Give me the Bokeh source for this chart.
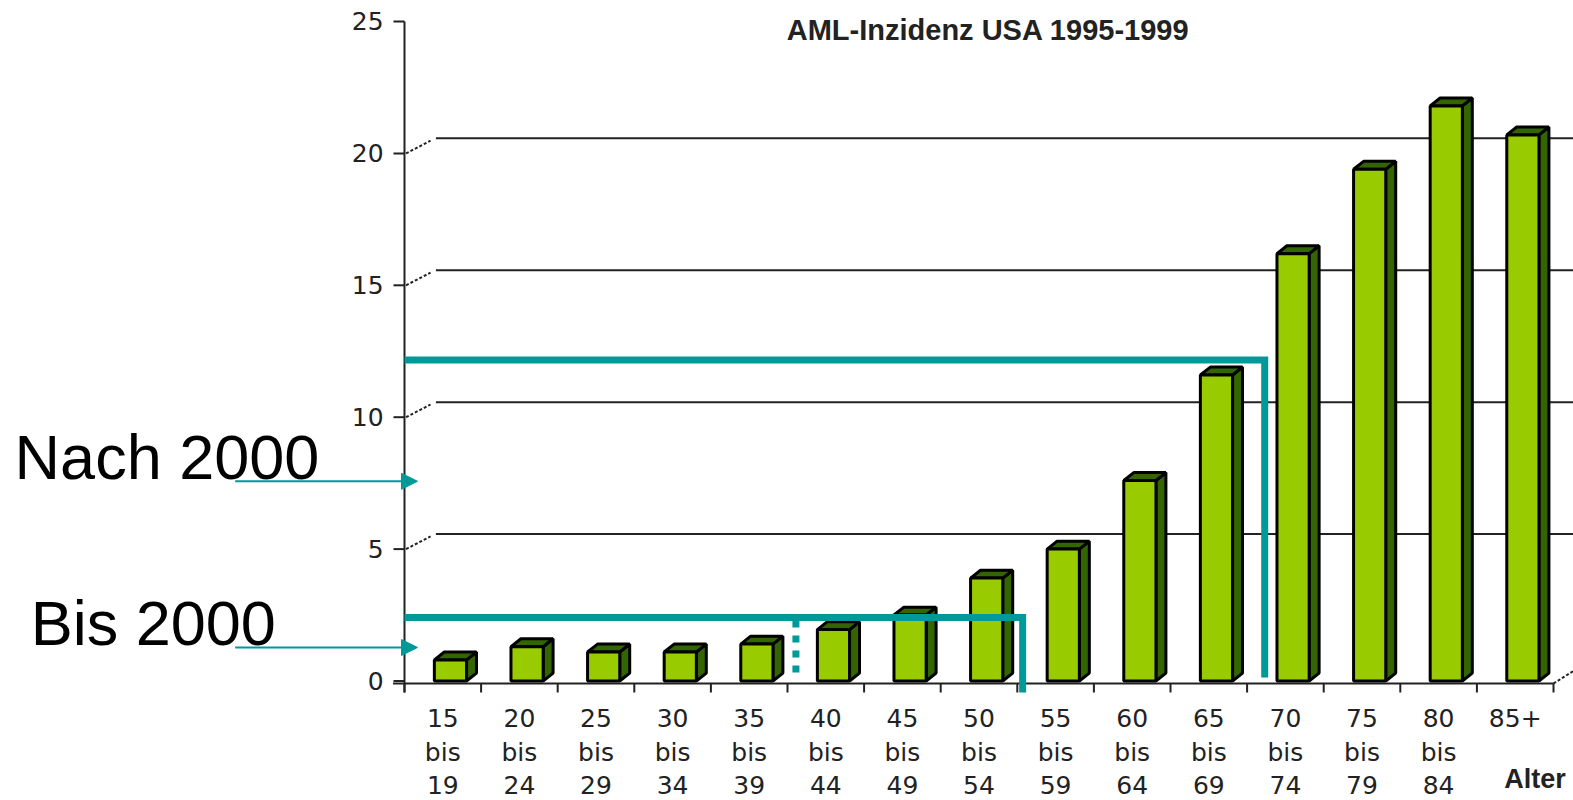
import numpy as np
from bokeh.plotting import figure
from bokeh.models import Label, Arrow, NormalHead, Range1d
from bokeh.embed import file_html
from bokeh.resources import INLINE
from bokeh.core.properties import value

# ---------------- data ----------------
age_groups = ["15\nbis\n19", "20\nbis\n24", "25\nbis\n29", "30\nbis\n34", "35\nbis\n39",
              "40\nbis\n44", "45\nbis\n49", "50\nbis\n54", "55\nbis\n59", "60\nbis\n64",
              "65\nbis\n69", "70\nbis\n74", "75\nbis\n79", "80\nbis\n84", "85+"]
incidence = [0.8, 1.3, 1.1, 1.1, 1.4, 1.95, 2.5, 3.9, 5.0, 7.6, 11.6, 16.2, 19.4, 21.8, 20.7]
y_ticks = [0, 5, 10, 15, 20, 25]
grid_levels = [5, 10, 15, 20]
title_text = "AML-Inzidenz USA 1995-1999"
x_title = "Alter"
label_nach = "Nach 2000"
label_bis = "Bis 2000"

# marked thresholds (incidence level, age-group boundary in category units)
nach_level = 12.17
nach_boundary = 11.23
bis_level = 2.41
bis_boundary = 8.07
bis_dotted = 5.11

# ---------------- styles ----------------
TEAL = "#009999"
GREEN = "#99CC00"
DARK = "#336600"
INK = "#222222"

n = len(incidence)
idx = np.arange(n)
vals = np.array(incidence, dtype=float)

p = figure(width=1573, height=800, x_range=Range1d(-5.274, 15.261),
           y_range=Range1d(-4.530, 25.796),
           output_backend="svg", toolbar_location=None, x_axis_location=None,
           y_axis_location=None, min_border=0)
p.grid.visible = False
p.outline_line_color = None
p.background_fill_color = "white"

Y_BOT = -0.436      # lower end of the value axis line
X_FLOOR = -0.095    # floor (category axis) line
TICK = 0.1436       # tick length in category units

# value axis
p.segment(x0=0, y0=y_ticks[-1], x1=0, y1=Y_BOT, line_color=INK, line_width=2)
yt = np.array(y_ticks, dtype=float)
p.segment(x0=-TICK, y0=yt, x1=0, y1=yt, line_color=INK, line_width=2)
p.text(x=-TICK - 0.13, y=yt, text=[str(t) for t in y_ticks], text_font=value("DejaVu Sans"),
       text_font_size="25px", text_color=INK, text_align="right", text_baseline="middle")

# back-wall gridlines with dashed connectors
gl = np.array(grid_levels, dtype=float)
p.segment(x0=0.02, y0=gl, x1=0.34, y1=gl + 0.48, line_color=INK, line_width=2, line_dash="3 2")
p.segment(x0=0.41, y0=gl + 0.57, x1=15.3, y1=gl + 0.57, line_color=INK, line_width=2)

# floor line, boundary ticks and right diagonal
p.segment(x0=-0.15, y0=X_FLOOR, x1=n, y1=X_FLOOR, line_color=INK, line_width=2)
bounds = np.arange(n + 1)
p.segment(x0=bounds, y0=X_FLOOR, x1=bounds, y1=Y_BOT, line_color=INK, line_width=2)
p.segment(x0=n, y0=X_FLOOR, x1=n + 0.27, y1=0.4, line_color=INK, line_width=2, line_dash="3 2")

# 3D bars
w = 0.42
left = idx + 0.6 - w / 2
right = left + w
dx, dy = 0.13, 0.3
side_xs = [[r, r + dx, r + dx, r] for r in right]
side_ys = [[0, dy, v + dy, v] for v in vals]
top_xs = [[l, l + dx, r + dx, r] for l, r in zip(left, right)]
top_ys = [[v, v + dy, v + dy, v] for v in vals]
p.patches(side_xs, side_ys, fill_color=DARK, line_color="black", line_width=3)
p.patches(top_xs, top_ys, fill_color=DARK, line_color="black", line_width=3)
p.quad(left=left, right=right, bottom=0, top=vals, fill_color=GREEN,
       line_color="black", line_width=3)

# category labels, one text row per line
rows = [g.split("\n") for g in age_groups]
row_y = [-1.42, -2.71, -3.96]
for k, ry in enumerate(row_y):
    xs = [i + 0.5 for i, r in enumerate(rows) if len(r) > k]
    ts = [r[k] for r in rows if len(r) > k]
    p.text(x=xs, y=ry, text=ts, text_font=value("DejaVu Sans"), text_font_size="25px",
           text_color=INK, text_align="center", text_baseline="middle")

# teal markers
p.line([0, nach_boundary, nach_boundary], [nach_level, nach_level, 0.13],
       line_color=TEAL, line_width=7, line_join="miter")
p.line([0, bis_boundary, bis_boundary], [bis_level, bis_level, Y_BOT],
       line_color=TEAL, line_width=7, line_join="miter")
p.segment(x0=bis_dotted, y0=bis_level - 0.12, x1=bis_dotted, y1=0.3,
          line_color=TEAL, line_width=7, line_dash="7 8")

# arrows and big labels
for ya in (7.57, 1.27):
    p.add_layout(Arrow(end=NormalHead(size=16, fill_color=TEAL, line_color=TEAL),
                       x_start=-2.21, y_start=ya, x_end=0.17, y_end=ya,
                       line_color=TEAL, line_width=2))
p.add_layout(Label(x=-5.09, y=8.48, text=label_nach, text_font="Liberation Sans",
                   text_font_size="63px", text_color="black", text_baseline="alphabetic"))
p.add_layout(Label(x=-4.88, y=2.2, text=label_bis, text_font="Liberation Sans",
                   text_font_size="63px", text_color="black", text_baseline="alphabetic"))

# title and axis title
p.add_layout(Label(x=7.62, y=24.66, text=title_text, text_font="Liberation Sans",
                   text_font_style="bold", text_font_size="29px", text_color=INK,
                   text_align="center", text_baseline="alphabetic"))
p.add_layout(Label(x=15.16, y=-3.72, text=x_title, text_font="Liberation Sans",
                   text_font_style="bold", text_font_size="27px", text_color=INK,
                   text_align="right", text_baseline="alphabetic"))

open("out.html", "w").write(file_html(p, INLINE))
